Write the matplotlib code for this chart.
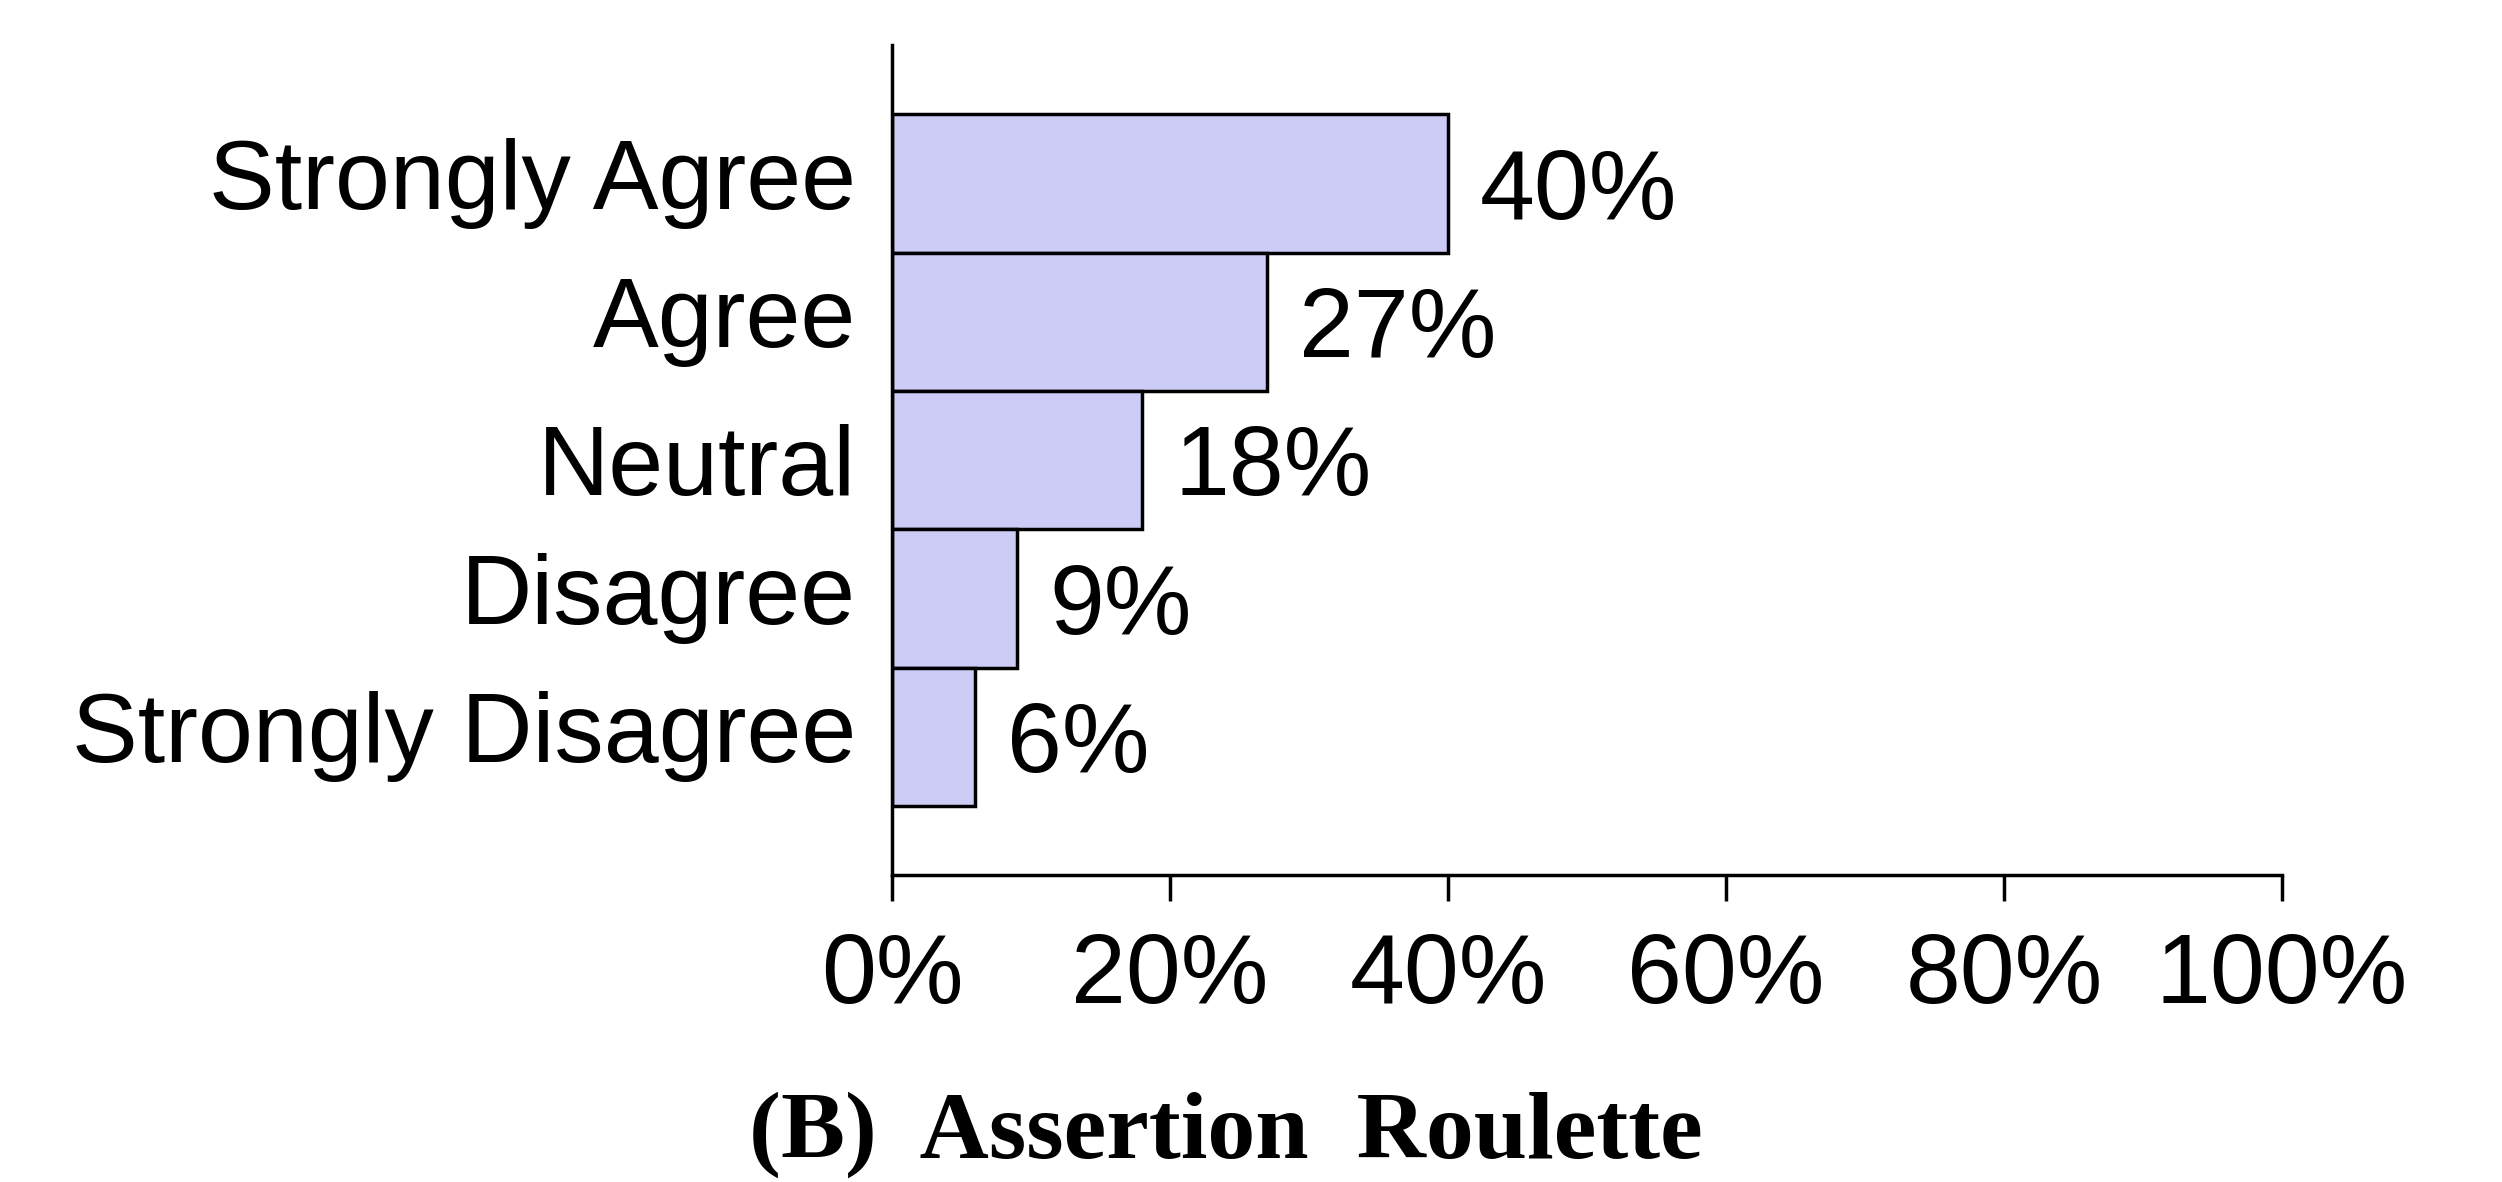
import matplotlib
matplotlib.use("Agg")
import matplotlib.pyplot as plt

categories = ["Strongly Agree", "Agree", "Neutral", "Disagree", "Strongly Disagree"]
values = [40, 27, 18, 9, 6]
xticks = [0, 20, 40, 60, 80, 100]
xticklabels = ["0%", "20%", "40%", "60%", "80%", "100%"]
title = "(B)  Assertion  Roulette"

plt.rcParams['font.family'] = ['Liberation Sans', 'DejaVu Sans']

fig = plt.figure(figsize=(25.02, 11.82), dpi=100)
ax = fig.add_axes([892/2502, 1 - 875/1182, (2282-892)/2502, (875-45)/1182])

ypos = list(range(len(categories)))[::-1]
ax.barh(ypos, values, height=1.0, color="#CCCCF7", edgecolor="black", linewidth=2.5)
for y, v in zip(ypos, values):
    ax.text(v + 2.3, y, f"{v}%", va="center_baseline", ha="left", fontsize=71)

ax.set_xlim(0, 100)
ax.set_ylim(-1, 5)
ax.set_yticks(ypos)
ax.set_yticklabels(categories, fontsize=71)
for lab in ax.get_yticklabels():
    txt = lab.get_text()
    lab.set_va("center" if any(c in "gjpqy" for c in txt) else "center_baseline")
ax.set_xticks(xticks)
ax.set_xticklabels(xticklabels, fontsize=71)
ax.tick_params(axis='y', length=0, pad=26)
ax.tick_params(axis='x', length=19, width=2.5, pad=22)
for s in ["top", "right"]:
    ax.spines[s].set_visible(False)
for s in ["left", "bottom"]:
    ax.spines[s].set_linewidth(2.5)

fig.text(1226/2502, 1 - 1158/1182, title, ha="center", va="baseline",
         fontsize=69, fontweight="bold", family=["Liberation Serif", "DejaVu Serif"])

fig.savefig("out.png", dpi=100)
